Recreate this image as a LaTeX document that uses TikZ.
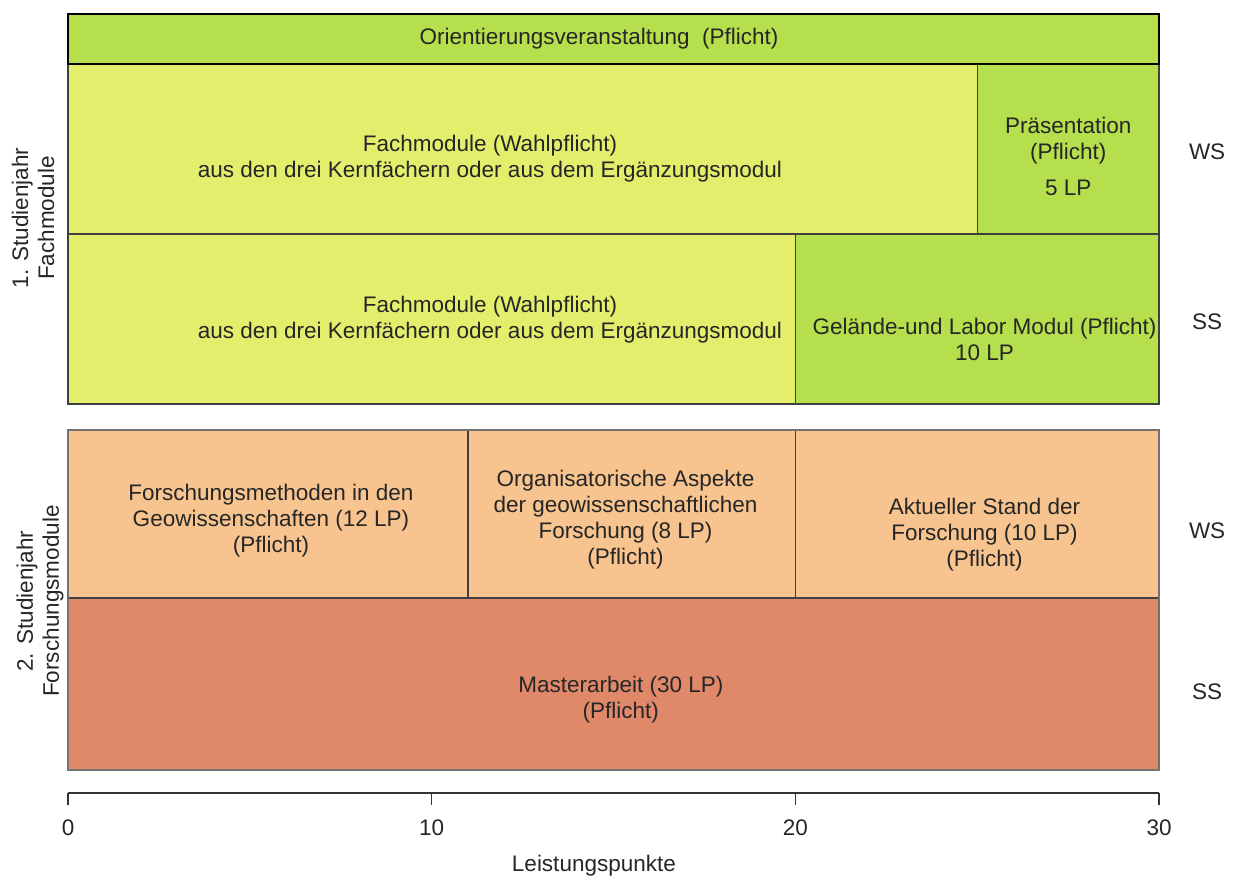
\documentclass[tikz,border=0pt]{standalone}
\usepackage{fontspec}
\setmainfont{Liberation Sans}
\usepackage{tikz}
\usetikzlibrary{calc,positioning}
\definecolor{orientgreen}{HTML}{B5DF4C}
\definecolor{fachyellow}{HTML}{E3EF6C}
\definecolor{forschorange}{HTML}{F7C48F}
\definecolor{masterred}{HTML}{E0896A}
\tikzset{
  modbox/.style={draw=black!75,line width=0.75pt},
  modtext/.style={align=center,inner sep=0pt},
  semlabel/.style={inner sep=0pt},
  axisline/.style={draw=black!80,line width=0.7pt},
  every node/.style={font=\fontsize{11.25}{13}\selectfont,text=black!85}
}

\begin{document}
\begin{tikzpicture}[x=18.183pt,y=-0.5pt]
  \useasboundingbox (-1.870,0) rectangle (32.087,878);
  % 1. Studienjahr
  \draw[modbox,fill=fachyellow] (0,64) rectangle (25,234);
  \draw[modbox,fill=orientgreen] (25,64) rectangle (30,234);
  \draw[modbox,fill=fachyellow] (0,234) rectangle (20,404);
  \draw[modbox,fill=orientgreen] (20,234) rectangle (30,404);
  \draw[modbox,fill=orientgreen,draw=black,line width=1pt] (0,14) rectangle (30,64);
  \node[modtext] (orient) at (14.6,39) {Orientierungsveranstaltung\ \ (Pflicht)};
  \node[modtext] (fachws) at (11.6,159)
    {Fachmodule (Wahlpflicht)\\aus den drei Kernfächern oder aus dem Ergänzungsmodul};
  \node[modtext] (praes) at (27.5,156) {Präsentation\\(Pflicht)\\[5pt]5 LP};
  \node[modtext] (fachss) at (11.6,320)
    {Fachmodule (Wahlpflicht)\\aus den drei Kernfächern oder aus dem Ergänzungsmodul};
  \node[modtext] (gelaende) at (25.2,339) {Gelände-und Labor Modul (Pflicht)\\10 LP};

  % 2. Studienjahr
  \draw[modbox,fill=forschorange] (0,430) rectangle (11,598);
  \draw[modbox,fill=forschorange] (11,430) rectangle (20,598);
  \draw[modbox,fill=forschorange] (20,430) rectangle (30,598);
  \draw[modbox,fill=masterred] (0,598) rectangle (30,770);
  \draw[draw=black!55,line width=0.9pt] (0,430) rectangle (30,770);
  \node[modtext] (methoden) at (5.58,521)
    {Forschungsmethoden in den\\Geowissenschaften (12 LP)\\(Pflicht)};
  \node[modtext] (organ) at (15.33,520)
    {Organisatorische Aspekte\\der geowissenschaftlichen\\Forschung (8 LP)\\(Pflicht)};
  \node[modtext] (stand) at (25.2,535)
    {Aktueller Stand der\\Forschung (10 LP)\\(Pflicht)};
  \node[modtext] (master) at (15.2,700) {Masterarbeit (30 LP)\\(Pflicht)};

  % Semester und Jahre
  \node[semlabel] (ws1) at (31.32,152) {WS};
  \node[semlabel] (ss1) at (31.32,322) {SS};
  \node[semlabel] (ws2) at (31.32,531) {WS};
  \node[semlabel] (ss2) at (31.32,692) {SS};
  \node[modtext,rotate=90] (jahr1) at (-0.96,218) {1. Studienjahr\\Fachmodule};
  \node[modtext,rotate=90] (jahr2) at (-0.77,601) {2. Studienjahr\\Forschungsmodule};

  % Achse
  \draw[axisline] (0,793) -- (30,793);
  \foreach \t in {0,10,20,30} {
    \draw[axisline] (\t,793) -- (\t,805);
    \node (lp\t) at (\t,828) {\t};
  }
  \node (lpname) at (14.46,866) {Leistungspunkte};
\end{tikzpicture}
\end{document}
